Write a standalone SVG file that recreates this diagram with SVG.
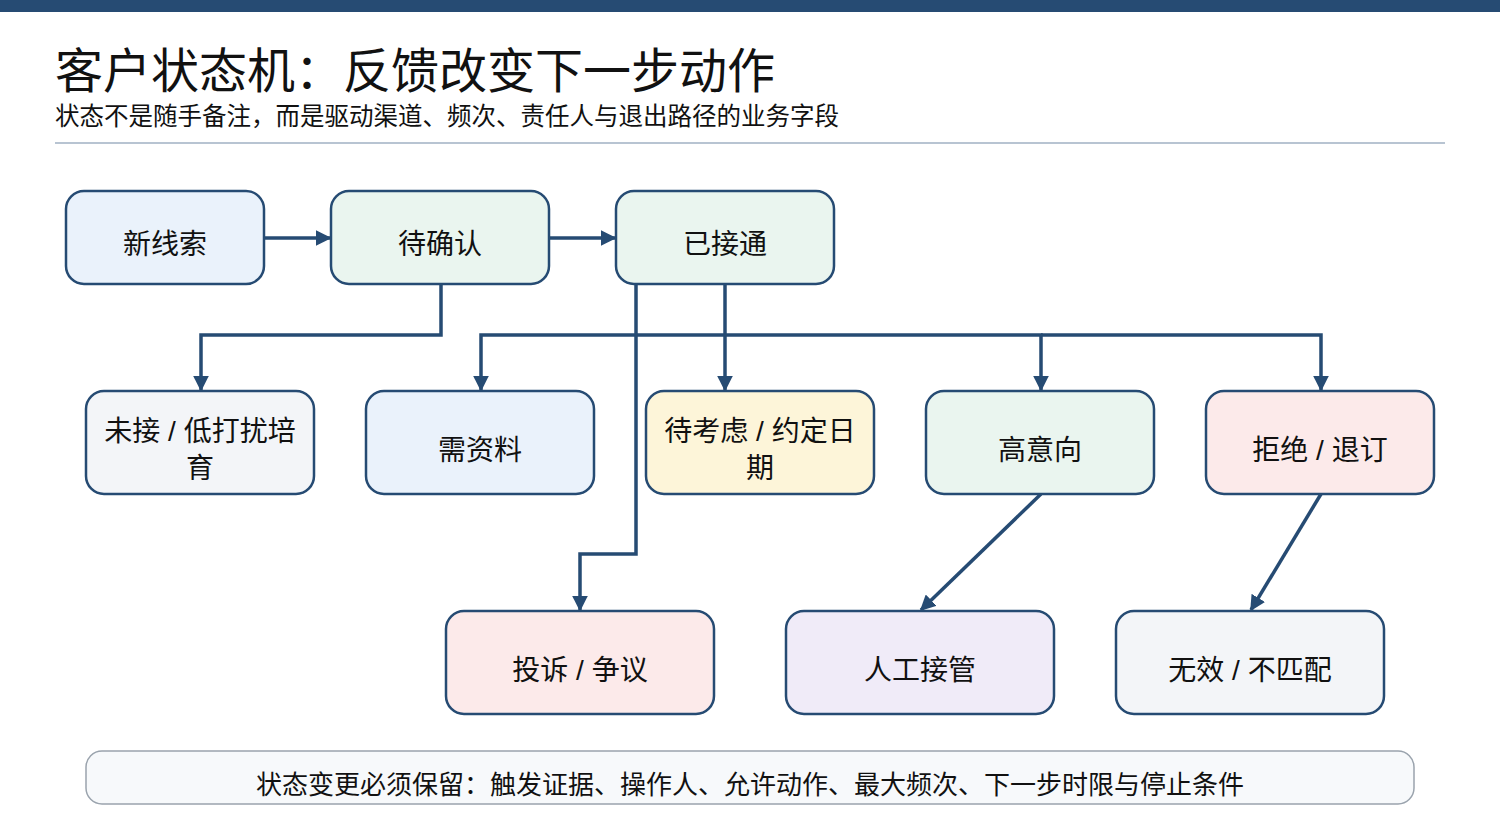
<svg xmlns="http://www.w3.org/2000/svg" width="1500" height="820" viewBox="0 0 1500 820">
<style>
text{font-family:"Liberation Sans","Noto Sans CJK SC",sans-serif;fill:#111}
.n{stroke:#264b73;stroke-width:2.5}
.t{font-size:28px;text-anchor:middle}
.c{fill:none;stroke:#264b73;stroke-width:3.5;marker-end:url(#a)}
</style>
<defs><marker id="a" viewBox="0 0 10 10" refX="9" refY="5" markerWidth="4.5" markerHeight="4.5" orient="auto" markerUnits="strokeWidth"><path d="M0,0L10,5L0,10z" fill="#264b73"/></marker></defs>
<rect x="0" y="0" width="1500" height="12" fill="#264b73"/>
<text x="55" y="88" font-size="48">客户状态机：反馈改变下一步动作</text>
<text x="55" y="125" font-size="24.5">状态不是随手备注，而是驱动渠道、频次、责任人与退出路径的业务字段</text>
<rect x="55" y="142" width="1390" height="2" fill="#b8c4d2"/>
<g id="connectors">
<path class="c" d="M264,238H330"/>
<path class="c" d="M549,238H615"/>
<path class="c" d="M441,284V335H201V390"/>
<path class="c" d="M725,284V390"/>
<path class="c" d="M725,335H481V390"/>
<path class="c" d="M725,335H1041V390"/>
<path class="c" d="M1041,335H1321V390"/>
<path class="c" d="M636,284V554H580V610"/>
<path class="c" d="M1041,494L921,610"/>
<path class="c" d="M1321,494L1251,610"/>
</g>
<g id="n1"><rect class="n" x="66" y="191" width="198" height="93" rx="18" fill="#eaf2fb"/><text class="t" x="165" y="254">新线索</text></g>
<g id="n2"><rect class="n" x="331" y="191" width="218" height="93" rx="18" fill="#eaf5ef"/><text class="t" x="440" y="254">待确认</text></g>
<g id="n3"><rect class="n" x="616" y="191" width="218" height="93" rx="18" fill="#eaf5ef"/><text class="t" x="725" y="254">已接通</text></g>
<g id="n4"><rect class="n" x="86" y="391" width="228" height="103" rx="18" fill="#f3f5f8"/><text class="t" x="200" y="441">未接 / 低打扰培</text><text class="t" x="200" y="478">育</text></g>
<g id="n5"><rect class="n" x="366" y="391" width="228" height="103" rx="18" fill="#eaf2fb"/><text class="t" x="480" y="460">需资料</text></g>
<g id="n6"><rect class="n" x="646" y="391" width="228" height="103" rx="18" fill="#fdf5d9"/><text class="t" x="760" y="441">待考虑 / 约定日</text><text class="t" x="760" y="478">期</text></g>
<g id="n7"><rect class="n" x="926" y="391" width="228" height="103" rx="18" fill="#eaf5ef"/><text class="t" x="1040" y="460">高意向</text></g>
<g id="n8"><rect class="n" x="1206" y="391" width="228" height="103" rx="18" fill="#fceaea"/><text class="t" x="1320" y="460">拒绝 / 退订</text></g>
<g id="n9"><rect class="n" x="446" y="611" width="268" height="103" rx="18" fill="#fceaea"/><text class="t" x="580" y="680">投诉 / 争议</text></g>
<g id="n10"><rect class="n" x="786" y="611" width="268" height="103" rx="18" fill="#f0ebf8"/><text class="t" x="920" y="680">人工接管</text></g>
<g id="n11"><rect class="n" x="1116" y="611" width="268" height="103" rx="18" fill="#f3f5f8"/><text class="t" x="1250" y="680">无效 / 不匹配</text></g>
<g id="footer"><rect x="86" y="751" width="1328" height="53" rx="16" fill="#f7f9fb" stroke="#9aa3ad" stroke-width="1.5"/><text x="750" y="794" font-size="26" text-anchor="middle">状态变更必须保留：触发证据、操作人、允许动作、最大频次、下一步时限与停止条件</text></g>
</svg>
